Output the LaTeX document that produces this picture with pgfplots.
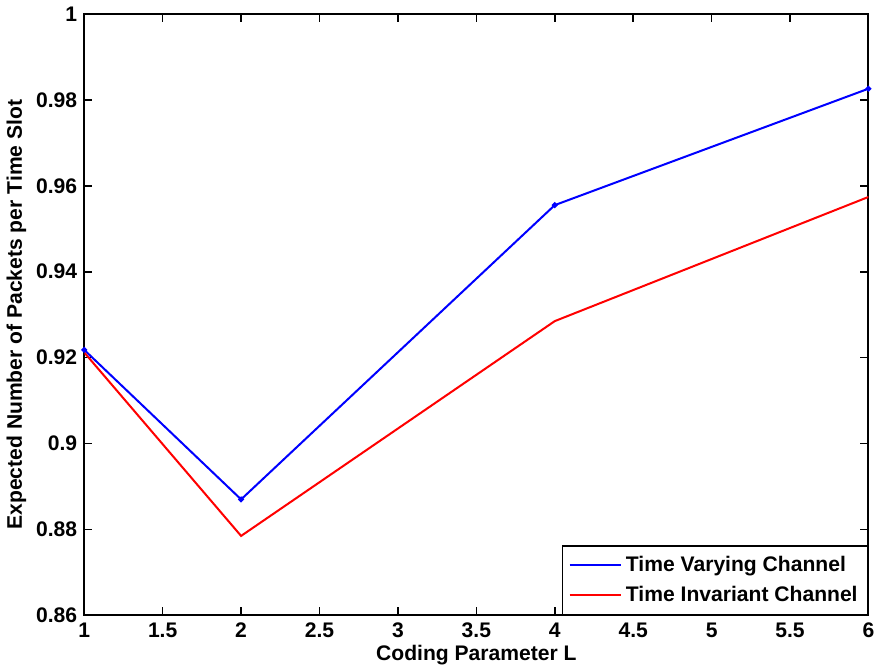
\documentclass[border=0pt]{standalone}
\usepackage{pgfplots}
\pgfplotsset{compat=1.18}
\usepackage{fontspec}
\setmainfont{Liberation Sans}
\begin{document}
\begin{tikzpicture}
\begin{axis}[
  scale only axis,
  width=390.5pt, height=299.5pt,
  xmin=1, xmax=6, ymin=0.86, ymax=1,
  xtick={1,1.5,...,6},
  ytick={0.86,0.88,...,1.001},
  /pgf/number format/assume math mode=true,
  tick label style={font=\fontsize{10.5}{12}\selectfont\bfseries},
  label style={font=\fontsize{10.5}{12}\selectfont\bfseries},
  xlabel={Coding Parameter L},
  ylabel={Expected Number of Packets per Time Slot},
  xlabel style={yshift=3pt},
  ylabel style={yshift=-2pt},
  tick align=inside,
  major tick length=4pt,
  axis line style={line width=1pt},
  every tick/.style={black, line width=0.8pt},
  legend pos=south east,
  legend style={at={(rel axis cs:1,0)}, anchor=south east, draw=black, line width=0.8pt,
    font=\fontsize{10.5}{12}\selectfont\bfseries, inner sep=3pt, row sep=2pt},
  legend cell align=left,
  legend image code/.code={\draw[#1, line width=1pt] (0cm,0cm) -- (0.9cm,0cm);},
]
\addplot[blue, line width=1pt, mark=*, mark size=0.9pt] coordinates {
  (1,0.9218) (2,0.8870) (4,0.9555) (6,0.9826)
};
\addlegendentry{Time Varying Channel}
\addplot[red, line width=1pt] coordinates {
  (1,0.9212) (2,0.8785) (4,0.9285) (6,0.9574)
};
\addlegendentry{Time Invariant Channel}
\end{axis}
\end{tikzpicture}
\end{document}
